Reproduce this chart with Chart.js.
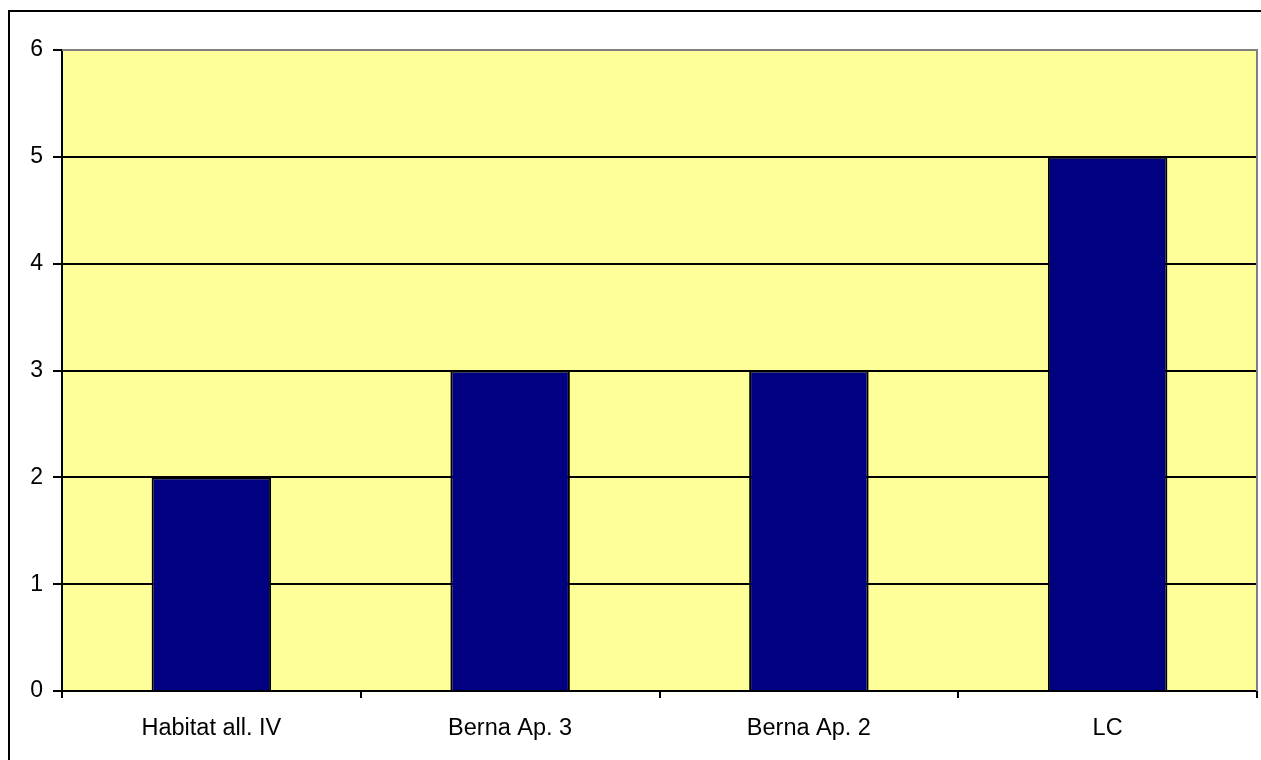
<!DOCTYPE html>
<html>
<head>
<meta charset="utf-8">
<script src="https://cdn.jsdelivr.net/npm/chart.js@4"></script>
<style>
	body { margin: 0; background: #fff; }
	canvas { display: block; }
</style>
</head>
<body>
<canvas id="statusChart" width="1261" height="760"></canvas>
<script>
// setup block
const categories = ['Habitat all. IV', 'Berna Ap. 3', 'Berna Ap. 2', 'LC'];
const counts = [2, 3, 3, 5];
const yMax = 6;
const yStep = 1;

// frame around the whole chart + yellow plot background
const framePlugin = {
	id: 'framePlugin',
	beforeDraw(chart) {
		const { ctx, chartArea } = chart;
		ctx.save();
		ctx.fillStyle = '#FFFF99';
		ctx.fillRect(chartArea.left, chartArea.top, chartArea.right - chartArea.left, chartArea.bottom - chartArea.top);
		ctx.strokeStyle = '#000';
		ctx.lineWidth = 2;
		ctx.strokeRect(9, 11, 1400, 900);
		ctx.restore();
	},
	afterDatasetsDraw(chart) {
		// gray top / right edge of the plot area
		const { ctx, chartArea } = chart;
		ctx.save();
		ctx.strokeStyle = '#808080';
		ctx.lineWidth = 2;
		ctx.beginPath();
		ctx.moveTo(chartArea.left, chartArea.top);
		ctx.lineTo(chartArea.right, chartArea.top);
		ctx.lineTo(chartArea.right, chartArea.bottom);
		ctx.stroke();
		ctx.restore();
	},
};

// config block
const config = {
	type: 'bar',
	data: {
		labels: categories,
		datasets: [
			{
				data: counts,
				backgroundColor: '#000080',
				borderColor: '#000',
				borderWidth: 2,
				barPercentage: 0.4,
				categoryPercentage: 1,
			},
		],
	},
	options: {
		responsive: false,
		animation: false,
		layout: {
			padding: { top: 50, right: 4, left: 0, bottom: 0 },
		},
		plugins: {
			legend: { display: false },
			tooltip: { enabled: false },
		},
		scales: {
			x: {
				afterFit: (scale) => { scale.height = 69; },
				grid: {
					offset: true,
					drawOnChartArea: false,
					color: '#000',
					lineWidth: 2,
					tickLength: 7,
				},
				border: { color: '#000', width: 2 },
				ticks: {
					color: '#000',
					padding: 16,
					font: { family: 'Arial, "Liberation Sans", sans-serif', size: 23.5 },
				},
			},
			y: {
				min: 0,
				max: yMax,
				afterFit: (scale) => { scale.width = 62; },
				grid: {
					color: '#000',
					lineWidth: 2,
					tickLength: 9,
				},
				border: { color: '#000', width: 2 },
				ticks: {
					stepSize: yStep,
					color: '#000',
					padding: 10,
					font: { family: 'Arial, "Liberation Sans", sans-serif', size: 23 },
				},
			},
		},
	},
	plugins: [framePlugin],
};

// render / init block
const statusChart = new Chart(document.getElementById('statusChart'), config);
</script>
</body>
</html>
